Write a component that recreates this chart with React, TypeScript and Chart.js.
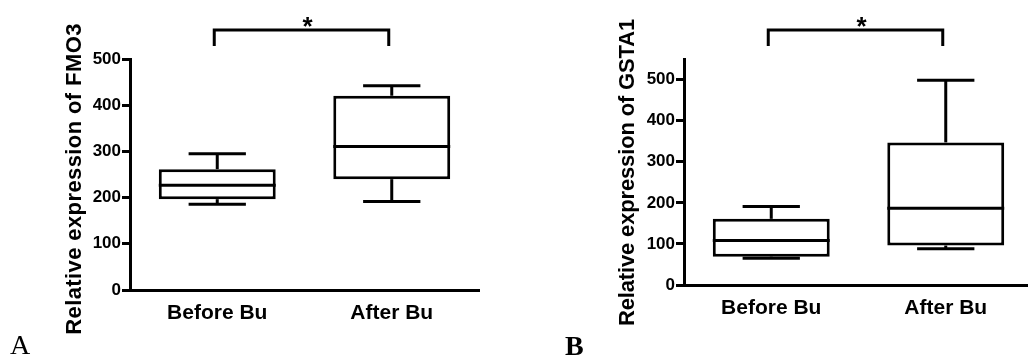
import React, { useEffect, useRef } from "react";
import { Chart, registerables } from "chart.js";

Chart.register(...registerables);

// ---------- data ----------
const categories = ["Before Bu", "After Bu"];

const fmo3Min = [185.7, 191.4];
const fmo3Q1 = [196.6, 239.9];
const fmo3Median = [226.9, 310.6];
const fmo3Q3 = [261.6, 420.5];
const fmo3Max = [294.8, 442.1];

const gsta1Min = [65, 88.5];
const gsta1Q1 = [69, 96];
const gsta1Median = [108, 187];
const gsta1Q3 = [161, 347];
const gsta1Max = [191, 498];

const yTickValues = [0, 100, 200, 300, 400, 500];
const fmo3AxisMax = 500;
const gsta1AxisMax = 550;

const fmo3Title = "Relative expression of FMO3";
const gsta1Title = "Relative expression of GSTA1";
const significance = "*";

// ---------- styling ----------
const SANS = "'Liberation Sans', Arial, Helvetica, sans-serif";
const SERIF = "'Liberation Serif', 'Times New Roman', Times, serif";

type Panel = {
  min: number[];
  q1: number[];
  median: number[];
  q3: number[];
  max: number[];
  yMax: number;
  title: string;
  titleSpacing: number;
  titleX: number;
  titleY: number;
  letter: string;
  letterFont: string;
  letterX: number;
  letterY: number;
  canvasLeft: number;
  canvasWidth: number;
  yAxisWidth: number;
  xAxisHeight: number;
  padTop: number;
  padRight: number;
};

const panels: Panel[] = [
  {
    min: fmo3Min,
    q1: fmo3Q1,
    median: fmo3Median,
    q3: fmo3Q3,
    max: fmo3Max,
    yMax: fmo3AxisMax,
    title: fmo3Title,
    titleSpacing: 0.4,
    titleX: 81,
    titleY: 179,
    letter: "A",
    letterFont: `28px ${SERIF}`,
    letterX: 10,
    letterY: 354,
    canvasLeft: 0,
    canvasWidth: 490,
    yAxisWidth: 130,
    xAxisHeight: 66,
    padTop: 59,
    padRight: 11,
  },
  {
    min: gsta1Min,
    q1: gsta1Q1,
    median: gsta1Median,
    q3: gsta1Q3,
    max: gsta1Max,
    yMax: gsta1AxisMax,
    title: gsta1Title,
    titleSpacing: -0.15,
    titleX: 134,
    titleY: 172.5,
    letter: "B",
    letterFont: `bold 28px ${SERIF}`,
    letterX: 65,
    letterY: 355,
    canvasLeft: 500,
    canvasWidth: 540,
    yAxisWidth: 184,
    xAxisHeight: 71,
    padTop: 59,
    padRight: 7,
  },
];

function makeDecorPlugin(p: Panel) {
  return {
    id: "boxDecor",
    afterDatasetsDraw(chart: any) {
      const meta = chart.getDatasetMeta(0);
      const y = chart.scales.y;
      const ctx: CanvasRenderingContext2D = chart.ctx;
      ctx.save();
      ctx.strokeStyle = "#000";
      ctx.lineWidth = 3;
      ctx.lineCap = "butt";
      const line = (x1: number, y1: number, x2: number, y2: number) => {
        ctx.beginPath();
        ctx.moveTo(x1, y1);
        ctx.lineTo(x2, y2);
        ctx.stroke();
      };
      meta.data.forEach((bar: any, i: number) => {
        const cx = bar.x;
        const w = bar.width;
        const capW = w * 0.49;
        const yMin = y.getPixelForValue(p.min[i]);
        const yQ1 = y.getPixelForValue(p.q1[i]);
        const yMed = y.getPixelForValue(p.median[i]);
        const yQ3 = y.getPixelForValue(p.q3[i]);
        const yMaxPx = y.getPixelForValue(p.max[i]);
        line(cx - w / 2, yMed, cx + w / 2, yMed);
        line(cx, yQ3, cx, yMaxPx);
        line(cx - capW / 2, yMaxPx, cx + capW / 2, yMaxPx);
        line(cx, yQ1, cx, yMin);
        line(cx - capW / 2, yMin, cx + capW / 2, yMin);
      });
      ctx.restore();
    },
    afterDraw(chart: any) {
      const ctx: CanvasRenderingContext2D = chart.ctx;
      const x = chart.scales.x;
      const area = chart.chartArea;
      ctx.save();
      // significance bracket
      const xa = x.getPixelForValue(0) - 3;
      const xb = x.getPixelForValue(1) - 3;
      const yLine = area.top - 29;
      const yTickEnd = area.top - 13;
      ctx.strokeStyle = "#000";
      ctx.lineWidth = 3;
      ctx.beginPath();
      ctx.moveTo(xa - 1.5, yLine);
      ctx.lineTo(xb + 1.5, yLine);
      ctx.moveTo(xa, yLine);
      ctx.lineTo(xa, yTickEnd);
      ctx.moveTo(xb, yLine);
      ctx.lineTo(xb, yTickEnd);
      ctx.stroke();
      ctx.fillStyle = "#000";
      ctx.font = `bold 26px ${SANS}`;
      ctx.textAlign = "center";
      ctx.textBaseline = "alphabetic";
      ctx.fillText(significance, (xa + xb) / 2 + 6, area.top - 24);
      // y axis title
      ctx.save();
      ctx.translate(p.titleX, p.titleY);
      ctx.rotate(-Math.PI / 2);
      ctx.font = `bold 22px ${SANS}`;
      (ctx as any).letterSpacing = `${p.titleSpacing}px`;
      ctx.textAlign = "center";
      ctx.textBaseline = "alphabetic";
      ctx.fillText(p.title, 0, 0);
      ctx.restore();
      // panel letter
      ctx.font = p.letterFont;
      ctx.textAlign = "left";
      ctx.textBaseline = "alphabetic";
      ctx.fillText(p.letter, p.letterX, p.letterY);
      ctx.restore();
    },
  };
}

function BoxChart({ panel }: { panel: Panel }) {
  const ref = useRef<HTMLCanvasElement>(null);
  useEffect(() => {
    if (!ref.current) return;
    const p = panel;
    const chart = new Chart(ref.current, {
      type: "bar",
      data: {
        labels: categories,
        datasets: [
          {
            data: categories.map((_, i) => [p.q1[i], p.q3[i]]) as any,
            backgroundColor: "#fff",
            borderColor: "#000",
            borderWidth: 3,
            borderSkipped: false,
            barPercentage: 0.67,
            categoryPercentage: 1,
          },
        ],
      },
      options: {
        animation: false,
        responsive: false,
        devicePixelRatio: 1,
        events: [],
        layout: { padding: { left: 0, top: p.padTop, right: p.padRight, bottom: 0 } },
        plugins: {
          legend: { display: false },
          tooltip: { enabled: false },
          title: { display: false },
        },
        scales: {
          x: {
            type: "category",
            offset: true,
            grid: { display: false, drawTicks: false },
            border: { display: true, color: "#000", width: 3 },
            ticks: {
              color: "#000",
              padding: 11,
              maxRotation: 0,
              font: { family: SANS, size: 21, weight: "bold" },
            },
            afterFit: (s: any) => {
              s.height = p.xAxisHeight;
            },
          },
          y: {
            type: "linear",
            min: 0,
            max: p.yMax,
            grid: {
              display: true,
              drawOnChartArea: false,
              drawTicks: true,
              tickLength: 8,
              tickWidth: 3,
              tickColor: "#000",
            },
            border: { display: true, color: "#000", width: 3 },
            ticks: {
              stepSize: 100,
              color: "#000",
              padding: 1,
              font: { family: SANS, size: 17, weight: "bold" },
            },
            afterBuildTicks: (s: any) => {
              s.ticks = yTickValues.map((v) => ({ value: v }));
            },
            afterFit: (s: any) => {
              s.width = p.yAxisWidth;
            },
          },
        },
      } as any,
      plugins: [makeDecorPlugin(p)],
    });
    return () => chart.destroy();
  }, [panel]);
  return (
    <div
      style={{
        position: "absolute",
        left: panel.canvasLeft,
        top: 0,
        width: panel.canvasWidth,
        height: 356,
      }}
    >
      <canvas
        ref={ref}
        width={panel.canvasWidth}
        height={356}
        style={{ display: "block", width: panel.canvasWidth, height: 356 }}
      />
    </div>
  );
}

export default function App() {
  return (
    <div
      style={{
        position: "fixed",
        left: 0,
        top: 0,
        width: 1028,
        height: 356,
        overflow: "hidden",
        background: "#fff",
      }}
    >
      {panels.map((p, i) => (
        <BoxChart key={i} panel={p} />
      ))}
    </div>
  );
}
